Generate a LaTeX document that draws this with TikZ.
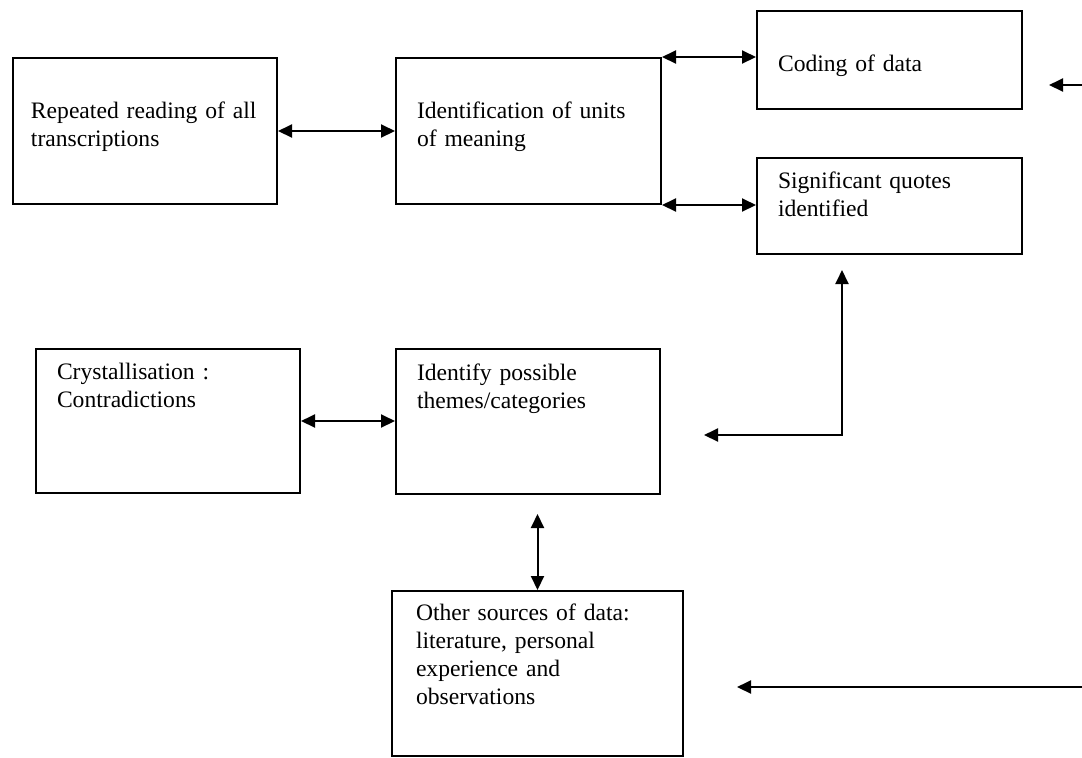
\documentclass[tikz,border=0pt]{standalone}
\usepackage{fontspec}
\setmainfont{Liberation Serif}
\usetikzlibrary{arrows.meta}

\begin{document}
\begin{tikzpicture}[x = 0.5pt, y = -0.5pt,
	stage/.style = {draw, line width = 1pt, anchor = north west, align = left, inner xsep = 10.5pt, inner ysep = 0pt, font = \fontsize{11.8}{14}\selectfont},
	link/.style = {line width = 1pt, {Triangle[length = 7pt, width = 6.5pt]}-{Triangle[length = 7pt, width = 6.5pt]}},
	feed/.style = {line width = 1pt, -{Triangle[length = 7pt, width = 6.5pt]}}]
	\useasboundingbox (0, 0) rectangle (1082, 757);
	% boxes
	\node[stage, inner xsep = 9pt, text width = 114pt, text height = 30pt, text depth = 43pt] (reading) at (12, 57) {Repeated reading of all\\ transcriptions};
	\node[stage, text width = 111.5pt, text height = 30pt, text depth = 43pt] (units) at (395, 57) {Identification of units\\ of meaning};
	\node[stage, text width = 111.5pt, text height = 30pt, text depth = 19pt] (coding) at (756, 10) {Coding of data};
	\node[stage, text width = 111.5pt, text height = 15pt, text depth = 33pt] (quotes) at (756, 157) {Significant quotes\\ identified};
	\node[stage, text width = 111pt, text height = 15pt, text depth = 57pt] (crystal) at (35, 348) {Crystallisation :\\ Contradictions};
	\node[stage, text width = 111pt, text height = 15.5pt, text depth = 57pt] (themes) at (395, 348) {Identify possible\\ themes/categories};
	\node[stage, inner xsep = 12pt, text width = 121.5pt, text height = 14.5pt, text depth = 68pt] (sources) at (391, 590) {Other sources of data:\\ literature, personal\\ experience and\\ observations};
	% free ends
	\coordinate (turn) at (842, 435);
	\coordinate (edgetop) at (1082, 85);
	\coordinate (edgebot) at (1082, 687);
	% connectors
	\draw[link] (reading) -- (units);
	\draw[link] (units.north east) -- (units.north east -| coding.west);
	\draw[link] (units.south east) -- (units.south east -| quotes.west);
	\draw[link] (crystal) -- (crystal -| themes.west);
	\draw[link, shorten <= 9.5pt] (sources.north |- themes.south) -- (sources.north);
	\draw[link, shorten <= 7.5pt, shorten >= 21.5pt] (turn |- quotes.south) -- (turn) -- (turn -| themes.east);
	\draw[feed, shorten >= 13pt] (edgetop) -- (edgetop -| coding.east);
	\draw[feed, shorten >= 26.5pt] (edgebot) -- (edgebot -| sources.east);
\end{tikzpicture}
\end{document}
